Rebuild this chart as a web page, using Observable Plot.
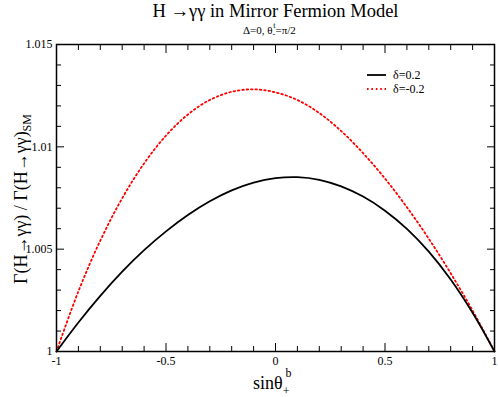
<!DOCTYPE html>
<html>
<head>
<meta charset="utf-8">
<script src="https://cdn.jsdelivr.net/npm/d3@7"></script>
<script src="https://cdn.jsdelivr.net/npm/@observablehq/plot@0.6"></script>
<style>
  html, body { margin: 0; padding: 0; background: #fff; }
</style>
</head>
<body>
<div id="chart"></div>
<script>
// sinθ_+^b values
const xs = [-1, -0.9, -0.8, -0.7, -0.6, -0.5, -0.4, -0.3, -0.2, -0.1, 0, 0.1, 0.2, 0.3, 0.4, 0.5, 0.6, 0.7, 0.8, 0.9, 1];
// δ = 0.2 (black solid)
const deltaPos = [1, 1.00142, 1.00272, 1.00390, 1.00495, 1.00587, 1.00667, 1.00734, 1.00787, 1.00825, 1.00847, 1.00852, 1.00839, 1.00807, 1.00757, 1.00688, 1.00599, 1.00488, 1.00352, 1.00189, 1];
// δ = -0.2 (red dotted)
const deltaNeg = [1, 1.00294, 1.00542, 1.00749, 1.00919, 1.01055, 1.01158, 1.01229, 1.01269, 1.01281, 1.01266, 1.01229, 1.01165, 1.01077, 1.00969, 1.00845, 1.00705, 1.00551, 1.00382, 1.00200, 1];

const seriesNames = ["δ=0.2", "δ=-0.2"];
const xMajor = [-1, -0.5, 0, 0.5, 1];
const xMinor = [-0.9, -0.8, -0.7, -0.6, -0.4, -0.3, -0.2, -0.1, 0.1, 0.2, 0.3, 0.4, 0.6, 0.7, 0.8, 0.9];
const yMajor = [1, 1.005, 1.01, 1.015];
const yMinor = [1.001, 1.002, 1.003, 1.004, 1.006, 1.007, 1.008, 1.009, 1.011, 1.012, 1.013, 1.014];
const xTickLabels = ["-1", "-0.5", "0", "0.5", "1"];
const yTickLabels = ["1", "1.005", "1.01", "1.015"];

const rowsPos = xs.map((x, i) => ({x, y: deltaPos[i]}));
const rowsNeg = xs.map((x, i) => ({x, y: deltaNeg[i]}));

const FONT = "Liberation Serif";
const none = () => "";
const DOTS = "1.6,2.8";

const svg = Plot.plot({
  width: 498,
  height: 397,
  marginLeft: 56,
  marginRight: 4,
  marginTop: 44,
  marginBottom: 46,
  x: {domain: [-1, 1]},
  y: {domain: [1, 1.015]},
  style: {fontFamily: FONT, fontSize: "12px", color: "black", background: "white", overflow: "visible"},
  marks: [
    Plot.line(rowsNeg, {x: "x", y: "y", stroke: "#ff0000", strokeWidth: 1.8, strokeDasharray: DOTS, curve: "catmull-rom"}),
    Plot.line(rowsPos, {x: "x", y: "y", stroke: "black", strokeWidth: 1.8, curve: "catmull-rom"}),
    Plot.axisX(xMajor, {anchor: "bottom", tickSize: -8, tickFormat: none, label: null, strokeWidth: 1}),
    Plot.axisX(xMinor, {anchor: "bottom", tickSize: -5, tickFormat: none, label: null, strokeWidth: 1}),
    Plot.axisX(xMajor, {anchor: "top", tickSize: -8, tickFormat: none, label: null, strokeWidth: 1}),
    Plot.axisX(xMinor, {anchor: "top", tickSize: -5, tickFormat: none, label: null, strokeWidth: 1}),
    Plot.axisY(yMajor, {anchor: "left", tickSize: -8, tickFormat: none, label: null, strokeWidth: 1}),
    Plot.axisY(yMinor, {anchor: "left", tickSize: -5, tickFormat: none, label: null, strokeWidth: 1}),
    Plot.axisY(yMajor, {anchor: "right", tickSize: -8, tickFormat: none, label: null, strokeWidth: 1}),
    Plot.axisY(yMinor, {anchor: "right", tickSize: -5, tickFormat: none, label: null, strokeWidth: 1}),
    Plot.axisX(xMajor, {anchor: "bottom", tickSize: 0, tickPadding: 5, tickFormat: (d) => xTickLabels[xMajor.indexOf(d)], label: null, fontSize: 12}),
    Plot.axisY(yMajor, {anchor: "left", tickSize: 0, tickPadding: 4, tickFormat: (d) => yTickLabels[yMajor.indexOf(d)], label: null, fontSize: 12}),
    Plot.frame({stroke: "black", strokeWidth: 1.5})
  ]
});

document.getElementById("chart").appendChild(svg);

const s = d3.select(svg);
// Title
s.append("text")
  .attr("x", 275.5).attr("y", 17)
  .attr("text-anchor", "middle")
  .style("font-family", FONT).style("font-size", "18.5px").attr("fill", "black")
  .text("H →γγ in Mirror Fermion Model");

// Subtitle
const sub = s.append("text")
  .attr("x", 243).attr("y", 34)
  .attr("text-anchor", "start")
  .style("font-family", FONT).style("font-size", "11px").attr("fill", "black");
sub.append("tspan").text("Δ=0, θ");
sub.append("tspan").attr("dy", 3).style("font-size", "8px").text("-");
sub.append("tspan").attr("dx", -2).attr("dy", -9).style("font-size", "8px").text("t");
sub.append("tspan").attr("dy", 6).text("=π/2");

// X axis label
const xl = s.append("text")
  .attr("x", 253).attr("y", 389)
  .attr("text-anchor", "start")
  .style("font-family", FONT).style("font-size", "18px").attr("fill", "black");
xl.append("tspan").text("sinθ");
xl.append("tspan").attr("dy", 6).style("font-size", "12px").text("+");
xl.append("tspan").attr("dx", -4).attr("dy", -18).style("font-size", "12px").text("b");

// Y axis label
const yl = s.append("text")
  .attr("transform", "translate(27,199) rotate(-90)")
  .attr("text-anchor", "middle")
  .style("font-family", FONT).style("font-size", "18px").attr("fill", "black");
yl.append("tspan").text("Γ(H→γγ) / Γ(H→γγ)");
yl.append("tspan").attr("dy", 4).style("font-size", "12px").text("SM");

// Legend
const legendItems = [
  {name: seriesNames[0], stroke: "black", dash: null, y: 75},
  {name: seriesNames[1], stroke: "#ff0000", dash: DOTS, y: 89}
];
legendItems.forEach(it => {
  s.append("line").attr("x1", 367).attr("x2", 386).attr("y1", it.y).attr("y2", it.y)
    .attr("stroke", it.stroke).attr("stroke-width", 1.8)
    .attr("stroke-dasharray", it.dash);
  s.append("text").attr("x", 393).attr("y", it.y + 4)
    .attr("text-anchor", "start")
    .style("font-family", FONT).style("font-size", "12px").attr("fill", "black")
    .text(it.name);
});
</script>
</body>
</html>
